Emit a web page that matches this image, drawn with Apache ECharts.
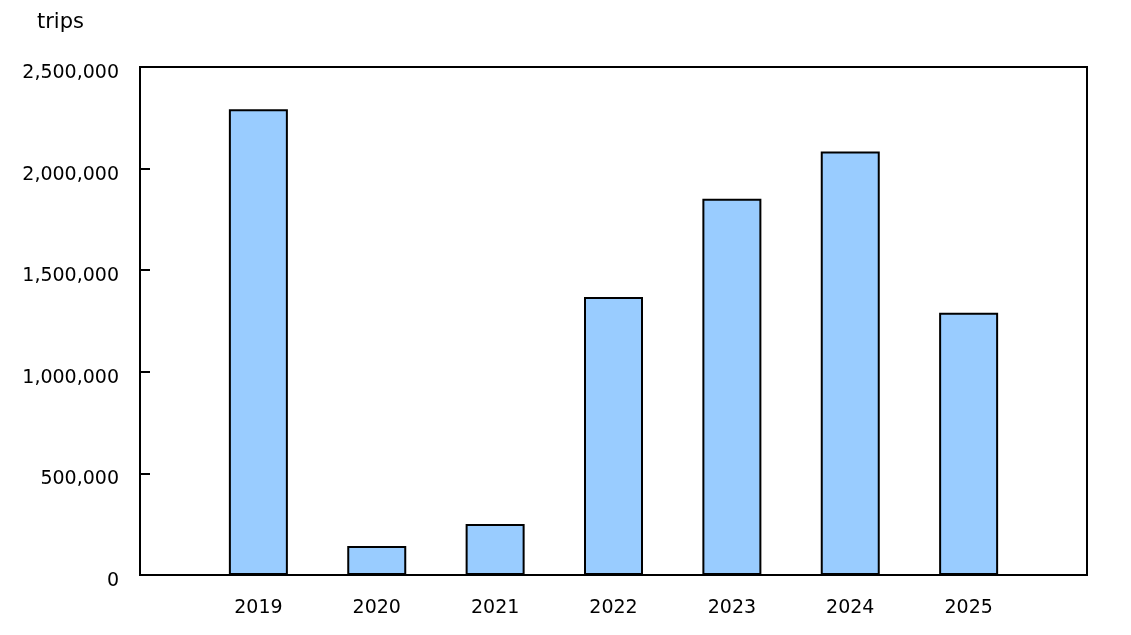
<!DOCTYPE html>
<html>
<head>
<meta charset="utf-8">
<script src="https://cdn.jsdelivr.net/npm/echarts@6/dist/echarts.min.js"></script>
<style>html,body{margin:0;padding:0;background:#fff}#c{width:1131px;height:635px}</style>
</head>
<body>
<div id="c"></div>
<script>
var categories = ['', '2019', '2020', '2021', '2022', '2023', '2024', '2025', ''];
var trips = [null, 2292000, 143000, 251000, 1368000, 1852000, 2084000, 1290000, null];
var yTicks = [0, 500000, 1000000, 1500000, 2000000, 2500000];

var chart = echarts.init(document.getElementById('c'));
var font = 'Verdana, "DejaVu Sans", sans-serif';
chart.setOption({
  animation: false,
  title: {
    text: 'trips', left: 32, top: 7,
    textStyle: { fontFamily: font, fontSize: 21, fontWeight: 'normal', color: '#000' }
  },
  grid: {
    left: 140, right: 44, top: 67, bottom: 60,
    show: true, borderColor: '#000', borderWidth: 2, backgroundColor: 'transparent'
  },
  xAxis: {
    type: 'category', data: categories, boundaryGap: false,
    axisLine: { show: true, lineStyle: { color: '#000', width: 2 } },
    axisTick: { show: false },
    splitLine: { show: false },
    axisLabel: { interval: 0, margin: 24, fontFamily: font, fontSize: 19, color: '#000' }
  },
  yAxis: {
    type: 'value', min: yTicks[0], max: yTicks[yTicks.length - 1], interval: yTicks[1] - yTicks[0],
    axisLine: { show: true, lineStyle: { color: '#000', width: 2 } },
    axisTick: { show: true, inside: true, length: 10, lineStyle: { color: '#000', width: 2 } },
    splitLine: { show: false },
    axisLabel: {
      margin: 21, fontFamily: font, fontSize: 19, color: '#000',
      verticalAlign: 'top', lineHeight: 12,
      formatter: function (v) { return v.toString().replace(/\B(?=(\d{3})+(?!\d))/g, ','); }
    }
  },
  series: [{
    type: 'bar', data: trips, barWidth: 59,
    itemStyle: { color: '#99ccff', borderColor: '#000', borderWidth: 2 }
  }]
});
</script>
</body>
</html>
